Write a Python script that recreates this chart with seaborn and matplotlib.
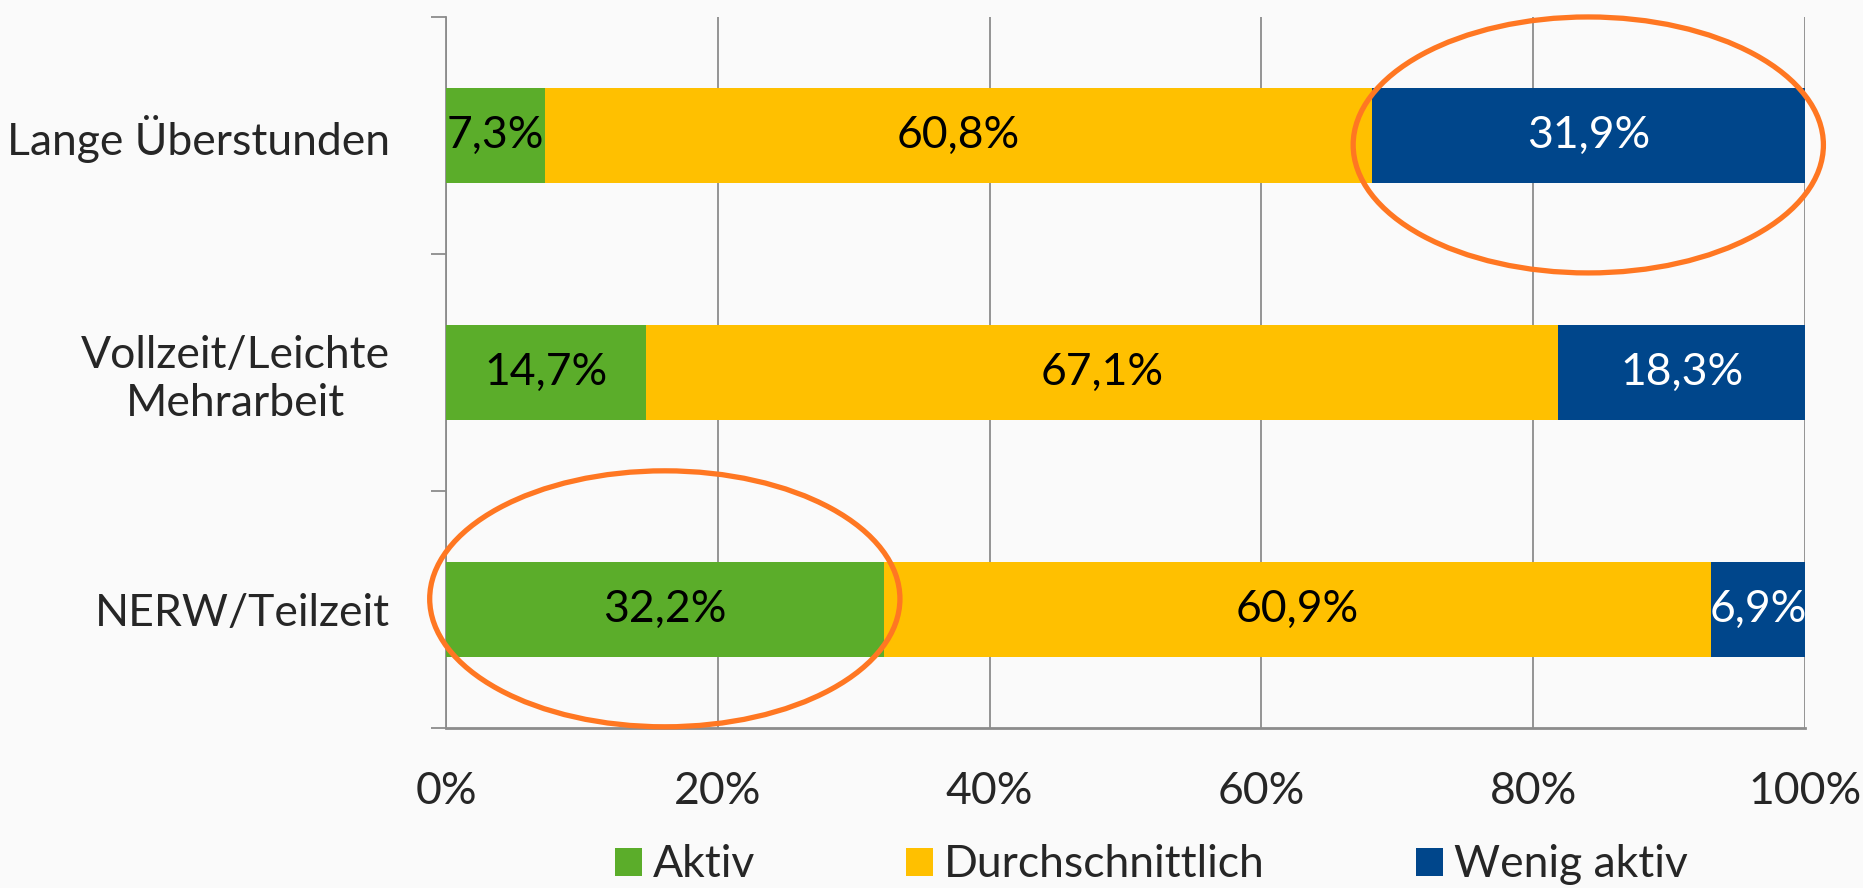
import numpy as np
import pandas as pd
import matplotlib
matplotlib.use("Agg")
import matplotlib.pyplot as plt
from matplotlib.patches import Ellipse, Patch
from matplotlib.ticker import FixedLocator
import seaborn as sns

# data
categories = ["Lange Überstunden", "Vollzeit/Leichte\nMehrarbeit", "NERW/Teilzeit"]
series = ["Aktiv", "Durchschnittlich", "Wenig aktiv"]
aktiv = [7.3, 14.7, 32.2]
durchschnittlich = [60.8, 67.1, 60.9]
wenig_aktiv = [31.9, 18.3, 6.9]
x_ticks = [0, 20, 40, 60, 80, 100]
# highlighted segments: (category index, series, small vertical shift of the ring)
highlights = [(0, "Wenig aktiv", 0.04), (2, "Aktiv", -0.045)]

colors = {"Aktiv": "#5BAD2A", "Durchschnittlich": "#FFC000", "Wenig aktiv": "#00468B"}
text_colors = {"Aktiv": "black", "Durchschnittlich": "black", "Wenig aktiv": "white"}

sns.set_style("white")
plt.rcParams["font.family"] = ["Lato", "DejaVu Sans"]
FS = 32
BG = "#fafafa"

df = pd.DataFrame({"cat": categories, "Aktiv": aktiv,
                   "Durchschnittlich": durchschnittlich, "Wenig aktiv": wenig_aktiv})
vals = df[series].values
starts = np.cumsum(vals, axis=1) - vals
df["c1"] = vals[:, 0]
df["c2"] = vals[:, 0] + vals[:, 1]
df["c3"] = vals.sum(axis=1)

fig = plt.figure(figsize=(18.63, 8.88), dpi=100, facecolor=BG)
ax = fig.add_axes([0.2394, 0.1802, 0.7295, 0.8007])
ax.set_facecolor(BG)

# stacked bars: draw cumulative totals back to front
for col, s in [("c3", "Wenig aktiv"), ("c2", "Durchschnittlich"), ("c1", "Aktiv")]:
    sns.barplot(data=df, x=col, y="cat", order=categories, orient="h",
                color=colors[s], width=0.4, linewidth=0, saturation=1, ax=ax, zorder=3)

# value labels
for i in range(len(categories)):
    for j, s in enumerate(series):
        v = vals[i, j]
        ax.text(starts[i, j] + v / 2, i, f"{v:.1f}%".replace(".", ","),
                ha="center", va="center", fontsize=FS, color=text_colors[s], zorder=5)

ax.set_xlim(0, 100)
ax.set_ylim(len(categories) - 0.5, -0.5)
ax.set_xlabel("")
ax.set_ylabel("")

gray = "#8c8c8c"
ax.set_xticks(x_ticks)
ax.set_xticklabels([f"{t}%" for t in x_ticks], fontsize=FS)
ax.xaxis.grid(True, color=gray, linewidth=1.3, zorder=0)
ax.tick_params(axis="x", direction="out", length=11, width=1.3, color=gray, pad=20)

ax.set_yticks(range(len(categories)))
ax.set_yticklabels(categories, fontsize=FS, multialignment="center")
ax.tick_params(axis="y", which="major", length=0, pad=40)
ax.yaxis.set_minor_locator(FixedLocator(np.arange(-0.5, len(categories), 1.0)))
ax.tick_params(axis="y", which="minor", direction="out", length=11, width=1.3, color=gray, left=True)

for sp in ["top", "right"]:
    ax.spines[sp].set_visible(False)
ax.spines["left"].set_color(gray)
ax.spines["left"].set_linewidth(1.3)
ax.spines["bottom"].set_color(gray)
ax.spines["bottom"].set_linewidth(2)

# orange highlight rings round selected segments
for i, s, dy in highlights:
    j = series.index(s)
    cx = starts[i, j] + vals[i, j] / 2
    ax.add_patch(Ellipse((cx, i + dy), width=34.6, height=1.08, fill=False,
                         edgecolor="#FF7722", linewidth=3.8, clip_on=False, zorder=6))

handles = [Patch(facecolor=colors[s], edgecolor="none") for s in series]
fig.legend(handles, series, loc="center", bbox_to_anchor=(0.618, 0.026), ncol=3,
           frameon=False, fontsize=FS, handlelength=0.6, handleheight=0.6,
           handletextpad=0.25, columnspacing=3.4)

fig.savefig("out.png", dpi=100, facecolor=BG)
